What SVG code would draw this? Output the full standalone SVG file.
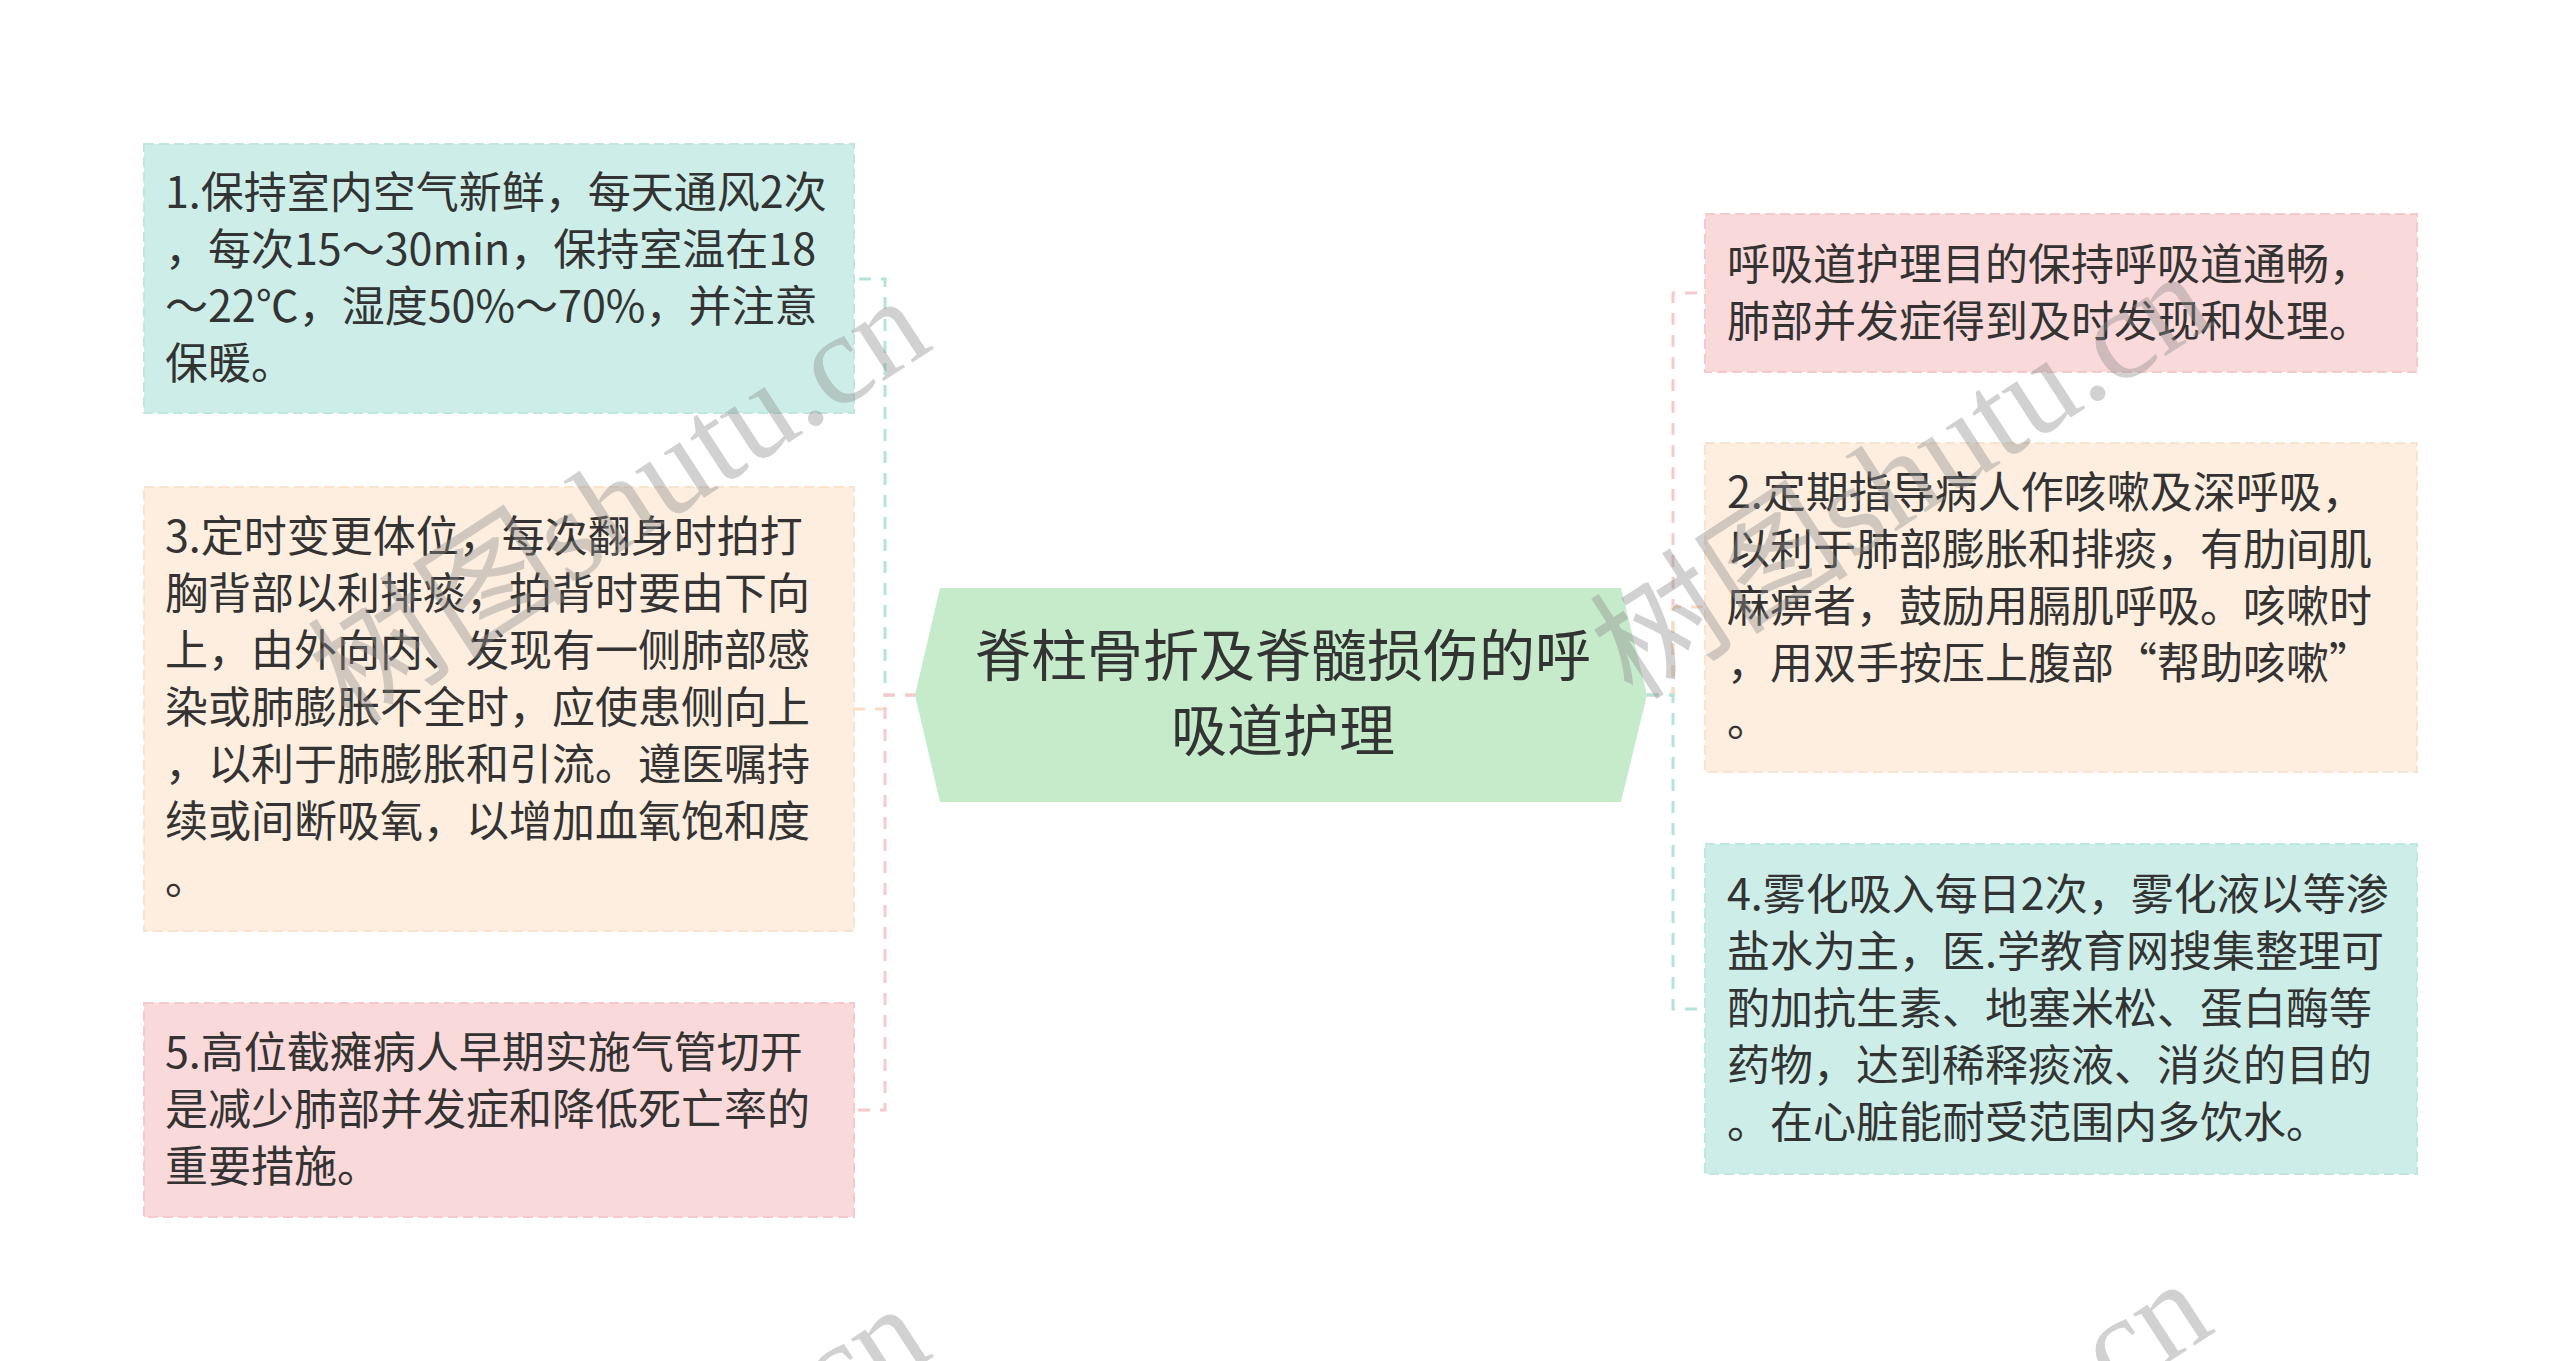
<svg xmlns="http://www.w3.org/2000/svg" width="2560" height="1361" viewBox="0 0 2560 1361">
<style>
.t{font-family:"Noto Sans CJK SC","Noto Sans",sans-serif;font-size:43px;fill:#333333}
.c{font-family:"Noto Sans CJK SC","Noto Sans",sans-serif;font-size:56px;fill:#333333;text-anchor:middle}
.teal{fill:#cdeee8;stroke:#bfe6df;stroke-width:2;stroke-dasharray:10 5}
.orange{fill:#fdeedf;stroke:#f7e3cf;stroke-width:2;stroke-dasharray:10 5}
.pink{fill:#fad9da;stroke:#f3cbcd;stroke-width:2;stroke-dasharray:10 5}
.green{fill:#c6ebca}
.ln{fill:none;stroke-width:3;stroke-dasharray:12 10}
.lt{stroke:#b3e3da}.lo{stroke:#f9dcc3}.lp{stroke:#f5c9cd}
.wm{font-family:"Liberation Serif","Noto Sans CJK SC",serif;font-size:130px;fill:#8c8c8c;fill-opacity:0.4}
</style>
<rect width="2560" height="1361" fill="#ffffff"/>
<g id="connectors">
<path class="ln lt" d="M917 695 H885 V279 H854"/>
<path class="ln lo" d="M917 695 H885 V709 H854"/>
<path class="ln lp" d="M917 695 H885 V1110 H854"/>
<path class="ln lp" d="M1647 695 H1673 V293 H1705"/>
<path class="ln lo" d="M1647 695 H1673 V607 H1705"/>
<path class="ln lt" d="M1647 695 H1673 V1009 H1705"/>
</g>
<g id="center">
<polygon class="green" points="940,588 1621,588 1647,695 1621,802 940,802 915,695"/>
<text class="c" x="1283" y="676">脊柱骨折及脊髓损伤的呼</text>
<text class="c" x="1283" y="751">吸道护理</text>
</g>
<g id="node1">
<rect class="teal" x="144" y="144" width="710" height="269"/>
<text class="t" x="165" y="208">1.保持室内空气新鲜，每天通风2次</text>
<text class="t" x="165" y="265">，每次15～30min，保持室温在18</text>
<text class="t" x="165" y="322">～22℃，湿度50%～70%，并注意</text>
<text class="t" x="165" y="379">保暖。</text>
</g>
<g id="node3">
<rect class="orange" x="144" y="487" width="710" height="444"/>
<text class="t" x="165" y="552">3.定时变更体位，每次翻身时拍打</text>
<text class="t" x="165" y="609">胸背部以利排痰，拍背时要由下向</text>
<text class="t" x="165" y="666">上，由外向内、发现有一侧肺部感</text>
<text class="t" x="165" y="723">染或肺膨胀不全时，应使患侧向上</text>
<text class="t" x="165" y="780">，以利于肺膨胀和引流。遵医嘱持</text>
<text class="t" x="165" y="837">续或间断吸氧，以增加血氧饱和度</text>
<text class="t" x="165" y="894">。</text>
</g>
<g id="node5">
<rect class="pink" x="144" y="1003" width="710" height="214"/>
<text class="t" x="165" y="1068">5.高位截瘫病人早期实施气管切开</text>
<text class="t" x="165" y="1125">是减少肺部并发症和降低死亡率的</text>
<text class="t" x="165" y="1182">重要措施。</text>
</g>
<g id="nodeA">
<rect class="pink" x="1705" y="214" width="712" height="158"/>
<text class="t" x="1727" y="280">呼吸道护理目的保持呼吸道通畅，</text>
<text class="t" x="1727" y="337">肺部并发症得到及时发现和处理。</text>
</g>
<g id="node2">
<rect class="orange" x="1705" y="443" width="712" height="329"/>
<text class="t" x="1727" y="508">2.定期指导病人作咳嗽及深呼吸，</text>
<text class="t" x="1727" y="565">以利于肺部膨胀和排痰，有肋间肌</text>
<text class="t" x="1727" y="622">麻痹者，鼓励用膈肌呼吸。咳嗽时</text>
<text class="t" x="1727" y="679">，用双手按压上腹部“帮助咳嗽”</text>
<text class="t" x="1727" y="736">。</text>
</g>
<g id="node4">
<rect class="teal" x="1705" y="844" width="712" height="330"/>
<text class="t" x="1727" y="910">4.雾化吸入每日2次，雾化液以等渗</text>
<text class="t" x="1727" y="967">盐水为主，医.学教育网搜集整理可</text>
<text class="t" x="1727" y="1024">酌加抗生素、地塞米松、蛋白酶等</text>
<text class="t" x="1727" y="1081">药物，达到稀释痰液、消炎的目的</text>
<text class="t" x="1727" y="1138">。在心脏能耐受范围内多饮水。</text>
</g>
<g id="watermarks">
<text class="wm" transform="translate(351 727) rotate(-33)">树图shutu.cn</text>
<text class="wm" transform="translate(1633 702) rotate(-33)">树图shutu.cn</text>
<text class="wm" transform="translate(351 1735) rotate(-33)">树图shutu.cn</text>
<text class="wm" transform="translate(1633 1710) rotate(-33)">树图shutu.cn</text>
</g>
</svg>
